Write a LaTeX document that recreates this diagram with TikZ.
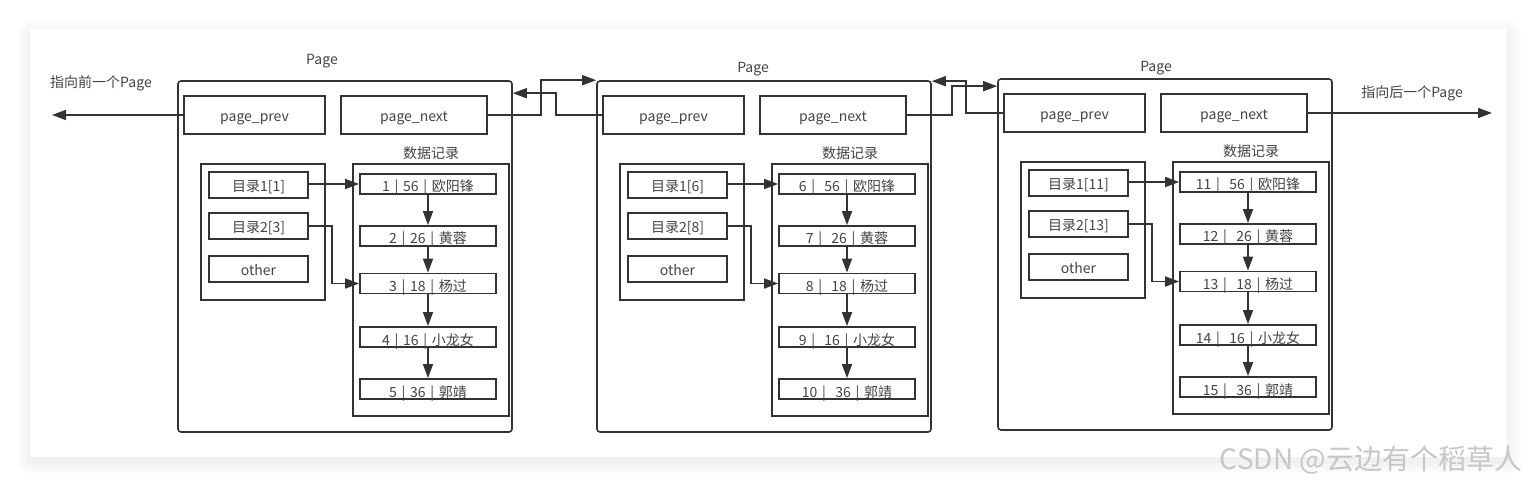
\documentclass[tikz,border=0pt]{standalone}
\usepackage{fontspec}
\setmainfont{Noto Sans CJK SC}
\newfontfamily\recfont[WordSpace=1.5]{Noto Sans CJK SC}
\usetikzlibrary{arrows.meta,calc}
\definecolor{ln}{HTML}{333333}
\definecolor{tx}{HTML}{444444}
\tikzset{
  box/.style={draw=ln, line width=1.6pt, rectangle, inner sep=0pt, text=tx, text height=15pt, text depth=2pt},
  pagebox/.style={draw=ln, line width=1.6pt, rectangle, rounded corners=3pt, inner sep=0pt},
  rec/.style={draw=ln, line width=1.8pt, rectangle, inner sep=0pt, minimum width=136pt, minimum height=20pt, text=tx, text height=17pt, text depth=1pt, font=\recfont\fontsize{14}{16}\selectfont},
  lbl/.style={text=tx, inner sep=0pt},
  arr/.style={draw=ln, line width=1.7pt, -{Triangle[length=14pt,width=10pt]}},
  ln/.style={draw=ln, line width=1.7pt},
}
\newcommand\onepage[9]{%
  \begin{scope}[shift={#2}]
    \node[pagebox, minimum width=334pt, minimum height=351pt] (#1page) at (345,256.5) {};
    \node[box, minimum width=141pt, minimum height=38pt] (#1prev) at (254.5,115) {page\_prev};
    \node[box, minimum width=146pt, minimum height=38pt] (#1next) at (414,115) {page\_next};
    \node[box, minimum width=124pt, minimum height=136pt] (#1dir) at (263,232) {};
    \node[box, minimum width=99pt, minimum height=26pt] (#1da) at (258.5,185) {#3};
    \node[box, minimum width=99pt, minimum height=26pt] (#1db) at (258.5,226) {#4};
    \node[box, minimum width=99pt, minimum height=26pt] (#1oth) at (258.5,269) {other};
    \node[lbl] (#1dlabel) at (431,153) {数据记录};
    \node[box, minimum width=156pt, minimum height=252pt] (#1data) at (431,290) {};
    \node[rec] (#1ra) at (428,184) {#5};
    \node[rec] (#1rb) at (428,236) {#6};
    \node[rec] (#1rc) at (428,283.5) {#7};
    \node[rec] (#1rd) at (428,337) {#8};
    \node[rec] (#1re) at (428,389) {#9};
    \draw[arr] (#1da.east |- #1ra.west) -- (#1ra.west);
    \draw[arr] (#1db.east) -| ([xshift=-27pt]#1rc.west) -- (#1rc.west);
    \draw[arr] (#1ra.south) -- (#1rb.north);
    \draw[arr] (#1rb.south) -- (#1rc.north);
    \draw[arr] (#1rc.south) -- (#1rd.north);
    \draw[arr] (#1rd.south) -- (#1re.north);
  \end{scope}}
\begin{document}
\begin{tikzpicture}[x=1pt, y=-1pt, font=\fontsize{14}{16}\selectfont]
\useasboundingbox (0,0) rectangle (1536,486);
\fill[white] (0,0) rectangle (1536,486);
% card shadow
\foreach \i in {1,...,14} {
  \fill[black, opacity=0.005, rounded corners=\i pt] (30-\i,30-\i+4) rectangle (1507+\i,457+\i+4);
}
\fill[white] (30,29) rectangle (1507,457);
% pages
\onepage{pa}{(0,0)}{目录1[1]}{目录2[3]}{1 | 56 | 欧阳锋}{2 | 26 | 黄蓉}{3 | 18 | 杨过}{4 | 16 | 小龙女}{5 | 36 | 郭靖}
\onepage{pb}{(419,0)}{目录1[6]}{目录2[8]}{6 |\ \ 56 | 欧阳锋}{7 |\ \ 26 | 黄蓉}{8 |\ \ 18 | 杨过}{9 |\ \ 16 | 小龙女}{10 |\ \ 36 | 郭靖}
\onepage{pc}{(820,-2)}{目录1[11]}{目录2[13]}{11 |\ \ 56 | 欧阳锋}{12 |\ \ 26 | 黄蓉}{13 |\ \ 18 | 杨过}{14 |\ \ 16 | 小龙女}{15 |\ \ 36 | 郭靖}
% titles
\node[lbl] (ta) at (322,61) {Page};
\node[lbl] (tb) at (753,69) {Page};
\node[lbl] (tc) at (1156,68) {Page};
\node[lbl] (lprev) at (101,83) {指向前一个Page};
\node[lbl] (lnext) at (1412,93) {指向后一个Page};
% outer arrows
\coordinate (lefttip) at (52,115);
\coordinate (righttip) at (1492,113);
\draw[arr] (paprev.west) -- (lefttip);
\draw[arr] (pcnext.east) -- (righttip);
% inter-page links
\draw[arr] (panext.east) -- ++(53,0) |- (pbpage.north west);
\draw[arr] (pbprev.west) -- ++(-46,0) |- ([yshift=-13pt]papage.north east);
\draw[arr] (pbnext.east) -- ++(45,0) |- ([yshift=-8pt]pcpage.north west);
\draw[arr] (pcprev.west) -- ++(-37,0) |- ([yshift=-1pt]pbpage.north east);
% watermark
\node[text=black!22, inner sep=0pt, font=\fontsize{28}{32}\selectfont] (wm) at (1371,460) {CSDN @云边有个稻草人};
\end{tikzpicture}
\end{document}
